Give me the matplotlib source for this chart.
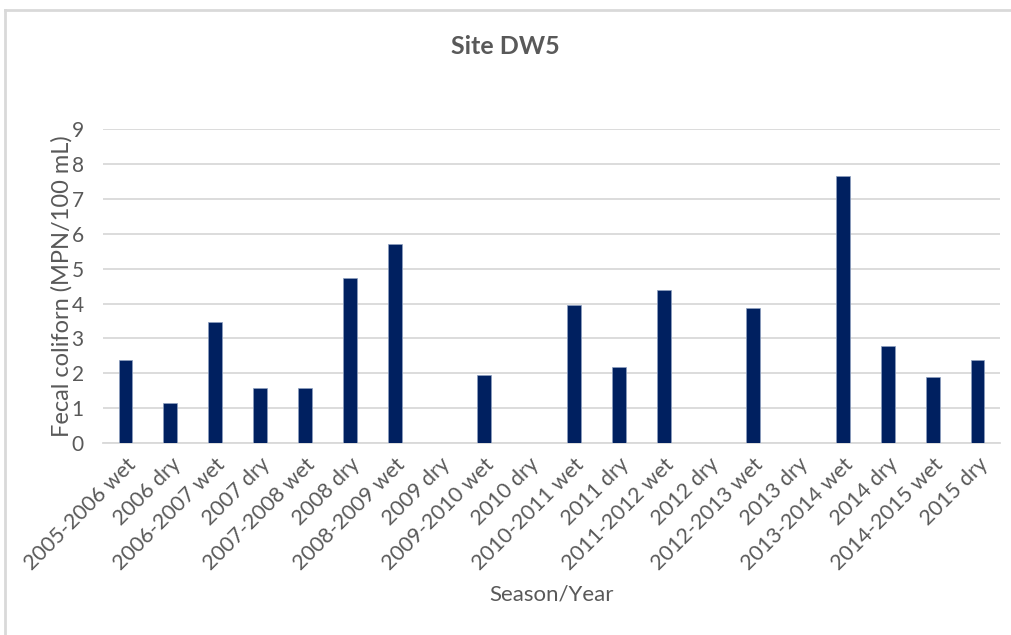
import matplotlib.pyplot as plt
from matplotlib.lines import Line2D

plt.rcParams['font.family'] = ['Lato', 'DejaVu Sans']

# data
seasons = ['2005-2006 wet', '2006 dry', '2006-2007 wet', '2007 dry', '2007-2008 wet',
           '2008 dry', '2008-2009 wet', '2009 dry', '2009-2010 wet', '2010 dry',
           '2010-2011 wet', '2011 dry', '2011-2012 wet', '2012 dry', '2012-2013 wet',
           '2013 dry', '2013-2014 wet', '2014 dry', '2014-2015 wet', '2015 dry']
fecal = [2.39, 1.15, 3.47, 1.59, 1.59, 4.73, 5.70, 0, 1.95, 0,
         3.96, 2.18, 4.39, 0, 3.86, 0, 7.64, 2.79, 1.89, 2.39]

grey = '#595959'

fig = plt.figure(figsize=(10.11, 6.35), dpi=100)
ax = fig.add_axes([0.102, 0.302, 0.887, 0.495])

x = range(len(seasons))
ax.bar(x, fecal, width=0.31, color='#002060', edgecolor='#8ea0c0', linewidth=0.5, zorder=3)

ax.set_xlim(-0.5, len(seasons) - 0.5)
ax.set_ylim(0, 9)
ax.set_yticks(range(10))
ax.yaxis.grid(True, color='#d9d9d9', linewidth=1.3, zorder=0)
for s in ['top', 'right', 'left']:
    ax.spines[s].set_visible(False)
ax.spines['bottom'].set_color('#d9d9d9')
ax.spines['bottom'].set_linewidth(1.3)
ax.tick_params(axis='both', length=0, colors=grey)
ax.tick_params(axis='y', pad=14, labelsize=15)
ax.set_xticks(list(x))
ax.set_xticklabels(seasons, rotation=45, ha='right', rotation_mode='anchor')
ax.tick_params(axis='x', pad=8, labelsize=15.5)

ax.set_ylabel('Fecal coliforn (MPN/100 mL)', color=grey, fontsize=17, labelpad=-1)
ax.set_xlabel('Season/Year', color=grey, fontsize=16, labelpad=8)
fig.text(0.5, 0.926, 'Site DW5', ha='center', va='center', fontsize=18,
         fontweight='bold', color=grey)

# chart border (left and top only visible)
fig.add_artist(Line2D([0.0045, 0.0045], [0, 0.984], color='#d9d9d9', linewidth=2,
                      transform=fig.transFigure))
fig.add_artist(Line2D([0.0045, 1.0], [0.984, 0.984], color='#d9d9d9', linewidth=2,
                      transform=fig.transFigure))

fig.savefig('out.png', dpi=100)
